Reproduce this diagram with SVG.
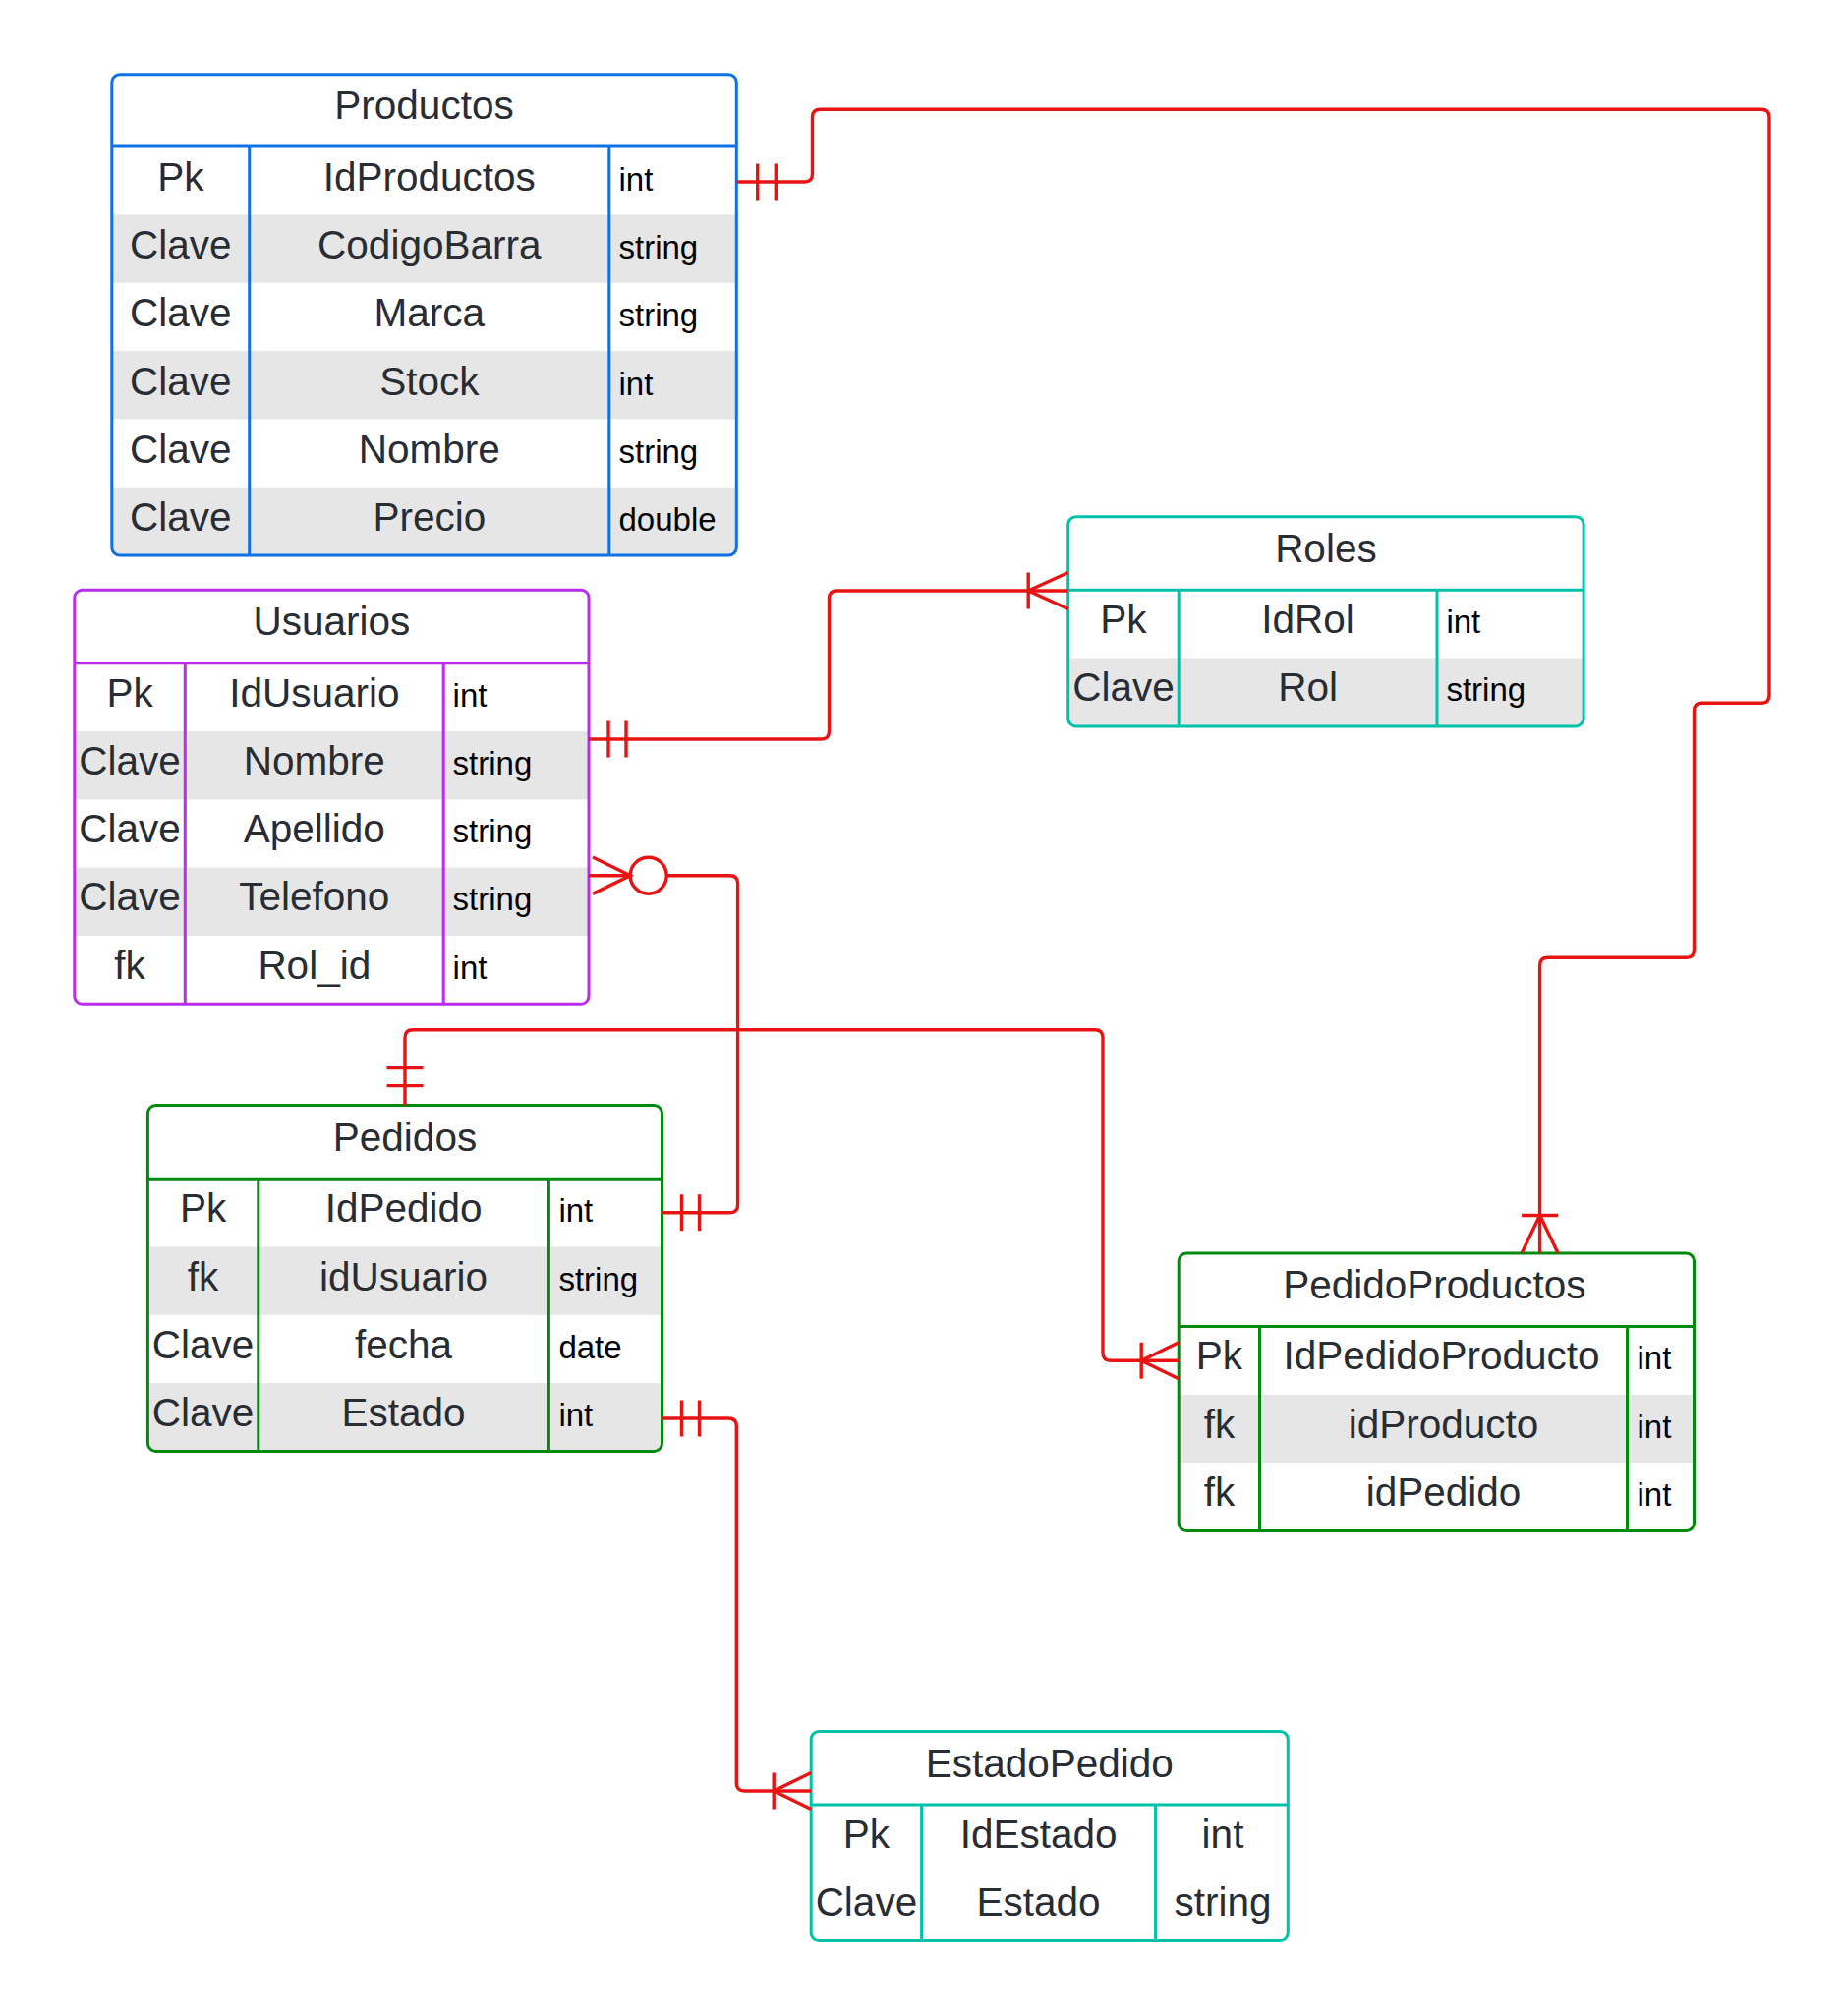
<svg xmlns="http://www.w3.org/2000/svg" width="1875" height="2051" viewBox="0 0 1875 2051">
<style>
  .bg { fill: #ffffff; }
  .alt { fill: #e6e6e6; }
  .frame { fill: none; stroke-width: 3; }
  .div { stroke-width: 3; fill: none; }
  .blue { stroke: #1071e5; }
  .purple { stroke: #b92df0; }
  .teal { stroke: #00c2a8; }
  .green { stroke: #008a0e; }
  .t { font-family: "Liberation Sans", Arial, sans-serif; font-size: 40.5px; fill: #282c33; text-anchor: middle; }
  .ty { font-family: "Liberation Sans", Arial, sans-serif; font-size: 33px; fill: #000000; text-anchor: start; }
  .conn { fill: none; stroke: #e81313; stroke-width: 3.4; }
</style>
<defs>
  <clipPath id="cp-productos"><rect x="113.8" y="75.8" width="635.5" height="489.2" rx="8"/></clipPath>
  <clipPath id="cp-usuarios"><rect x="75.8" y="600.2" width="523.2" height="421.1" rx="8"/></clipPath>
  <clipPath id="cp-roles"><rect x="1086.7" y="525.7" width="524.4" height="213.2" rx="8"/></clipPath>
  <clipPath id="cp-pedidos"><rect x="150.4" y="1124.6" width="523.1" height="351.8" rx="8"/></clipPath>
  <clipPath id="cp-pedprod"><rect x="1199.2" y="1275" width="524.3" height="282.5" rx="8"/></clipPath>
</defs>

<!-- Productos -->
<g id="productos">
  <rect class="bg" x="113.8" y="75.8" width="635.5" height="489.2" rx="8"/>
  <g clip-path="url(#cp-productos)">
    <rect class="alt" x="113.8" y="218.4" width="635.5" height="69.3"/>
    <rect class="alt" x="113.8" y="357.1" width="635.5" height="69.3"/>
    <rect class="alt" x="113.8" y="495.7" width="635.5" height="69.3"/>
  </g>
  <line class="div blue" x1="113.8" y1="149.1" x2="749.3" y2="149.1"/>
  <line class="div blue" x1="253.7" y1="149.1" x2="253.7" y2="565"/>
  <line class="div blue" x1="619.8" y1="149.1" x2="619.8" y2="565"/>
  <rect class="frame blue" x="113.8" y="75.8" width="635.5" height="489.2" rx="8"/>
  <text class="t" x="431.5" y="120.8">Productos</text>
  <text class="t" x="183.8" y="193.6">Pk</text>
  <text class="t" x="436.8" y="193.6">IdProductos</text>
  <text class="ty" x="629.5" y="193.6">int</text>
  <text class="t" x="183.8" y="262.9">Clave</text>
  <text class="t" x="436.8" y="262.9">CodigoBarra</text>
  <text class="ty" x="629.5" y="262.9">string</text>
  <text class="t" x="183.8" y="332.2">Clave</text>
  <text class="t" x="436.8" y="332.2">Marca</text>
  <text class="ty" x="629.5" y="332.2">string</text>
  <text class="t" x="183.8" y="401.5">Clave</text>
  <text class="t" x="436.8" y="401.5">Stock</text>
  <text class="ty" x="629.5" y="401.5">int</text>
  <text class="t" x="183.8" y="470.9">Clave</text>
  <text class="t" x="436.8" y="470.9">Nombre</text>
  <text class="ty" x="629.5" y="470.9">string</text>
  <text class="t" x="183.8" y="540.2">Clave</text>
  <text class="t" x="436.8" y="540.2">Precio</text>
  <text class="ty" x="629.5" y="540.2">double</text>
</g>

<!-- Usuarios -->
<g id="usuarios">
  <rect class="bg" x="75.8" y="600.2" width="523.2" height="421.1" rx="8"/>
  <g clip-path="url(#cp-usuarios)">
    <rect class="alt" x="75.8" y="744.1" width="523.2" height="69.3"/>
    <rect class="alt" x="75.8" y="882.7" width="523.2" height="69.3"/>
  </g>
  <line class="div purple" x1="75.8" y1="674.8" x2="599" y2="674.8"/>
  <line class="div purple" x1="188.3" y1="674.8" x2="188.3" y2="1021.3"/>
  <line class="div purple" x1="451.2" y1="674.8" x2="451.2" y2="1021.3"/>
  <rect class="frame purple" x="75.8" y="600.2" width="523.2" height="421.1" rx="8"/>
  <text class="t" x="337.4" y="646.2">Usuarios</text>
  <text class="t" x="132.1" y="718.5">Pk</text>
  <text class="t" x="319.8" y="718.5">IdUsuario</text>
  <text class="ty" x="460.6" y="718.5">int</text>
  <text class="t" x="132.1" y="787.8">Clave</text>
  <text class="t" x="319.8" y="787.8">Nombre</text>
  <text class="ty" x="460.6" y="787.8">string</text>
  <text class="t" x="132.1" y="857.1">Clave</text>
  <text class="t" x="319.8" y="857.1">Apellido</text>
  <text class="ty" x="460.6" y="857.1">string</text>
  <text class="t" x="132.1" y="926.4">Clave</text>
  <text class="t" x="319.8" y="926.4">Telefono</text>
  <text class="ty" x="460.6" y="926.4">string</text>
  <text class="t" x="132.1" y="995.7">fk</text>
  <text class="t" x="319.8" y="995.7">Rol_id</text>
  <text class="ty" x="460.6" y="995.7">int</text>
</g>

<!-- Roles -->
<g id="roles">
  <rect class="bg" x="1086.7" y="525.7" width="524.4" height="213.2" rx="8"/>
  <g clip-path="url(#cp-roles)">
    <rect class="alt" x="1086.7" y="669.5" width="524.4" height="69.4"/>
  </g>
  <line class="div teal" x1="1086.7" y1="600.2" x2="1611.1" y2="600.2"/>
  <line class="div teal" x1="1199.2" y1="600.2" x2="1199.2" y2="738.9"/>
  <line class="div teal" x1="1462" y1="600.2" x2="1462" y2="738.9"/>
  <rect class="frame teal" x="1086.7" y="525.7" width="524.4" height="213.2" rx="8"/>
  <text class="t" x="1348.9" y="571.7">Roles</text>
  <text class="t" x="1143" y="643.9">Pk</text>
  <text class="t" x="1330.6" y="643.9">IdRol</text>
  <text class="ty" x="1471.4" y="643.9">int</text>
  <text class="t" x="1143" y="713.2">Clave</text>
  <text class="t" x="1330.6" y="713.2">Rol</text>
  <text class="ty" x="1471.4" y="713.2">string</text>
</g>

<!-- Pedidos -->
<g id="pedidos">
  <rect class="bg" x="150.4" y="1124.6" width="523.1" height="351.8" rx="8"/>
  <g clip-path="url(#cp-pedidos)">
    <rect class="alt" x="150.4" y="1268.5" width="523.1" height="69.3"/>
    <rect class="alt" x="150.4" y="1407.1" width="523.1" height="69.3"/>
  </g>
  <line class="div green" x1="150.4" y1="1199.2" x2="673.5" y2="1199.2"/>
  <line class="div green" x1="262.8" y1="1199.2" x2="262.8" y2="1476.4"/>
  <line class="div green" x1="558.4" y1="1199.2" x2="558.4" y2="1476.4"/>
  <rect class="frame green" x="150.4" y="1124.6" width="523.1" height="351.8" rx="8"/>
  <text class="t" x="412" y="1170.8">Pedidos</text>
  <text class="t" x="206.6" y="1243.4">Pk</text>
  <text class="t" x="410.6" y="1243.4">IdPedido</text>
  <text class="ty" x="568.4" y="1243.4">int</text>
  <text class="t" x="206.6" y="1312.7">fk</text>
  <text class="t" x="410.6" y="1312.7">idUsuario</text>
  <text class="ty" x="568.4" y="1312.7">string</text>
  <text class="t" x="206.6" y="1382">Clave</text>
  <text class="t" x="410.6" y="1382">fecha</text>
  <text class="ty" x="568.4" y="1382">date</text>
  <text class="t" x="206.6" y="1451.3">Clave</text>
  <text class="t" x="410.6" y="1451.3">Estado</text>
  <text class="ty" x="568.4" y="1451.3">int</text>
</g>

<!-- PedidoProductos -->
<g id="pedidoproductos">
  <rect class="bg" x="1199.2" y="1275" width="524.3" height="282.5" rx="8"/>
  <g clip-path="url(#cp-pedprod)">
    <rect class="alt" x="1199.2" y="1418.9" width="524.3" height="69.3"/>
  </g>
  <line class="div green" x1="1199.2" y1="1349.6" x2="1723.5" y2="1349.6"/>
  <line class="div green" x1="1281.5" y1="1349.6" x2="1281.5" y2="1557.5"/>
  <line class="div green" x1="1655.5" y1="1349.6" x2="1655.5" y2="1557.5"/>
  <rect class="frame green" x="1199.2" y="1275" width="524.3" height="282.5" rx="8"/>
  <text class="t" x="1459.4" y="1321">PedidoProductos</text>
  <text class="t" x="1240.4" y="1393.3">Pk</text>
  <text class="t" x="1466.5" y="1393.3">IdPedidoProducto</text>
  <text class="ty" x="1665.5" y="1393.3">int</text>
  <text class="t" x="1240.4" y="1462.6">fk</text>
  <text class="t" x="1468.5" y="1462.6">idProducto</text>
  <text class="ty" x="1665.5" y="1462.6">int</text>
  <text class="t" x="1240.4" y="1531.9">fk</text>
  <text class="t" x="1468.5" y="1531.9">idPedido</text>
  <text class="ty" x="1665.5" y="1531.9">int</text>
</g>

<!-- EstadoPedido -->
<g id="estadopedido">
  <rect class="bg" x="825.2" y="1761.5" width="485.1" height="213.1" rx="8"/>
  <line class="div teal" x1="825.2" y1="1836" x2="1310.3" y2="1836"/>
  <line class="div teal" x1="937.6" y1="1836" x2="937.6" y2="1974.6"/>
  <line class="div teal" x1="1175.6" y1="1836" x2="1175.6" y2="1974.6"/>
  <rect class="frame teal" x="825.2" y="1761.5" width="485.1" height="213.1" rx="8"/>
  <text class="t" x="1067.8" y="1808">EstadoPedido</text>
  <text class="t" x="881.4" y="1879.7">Pk</text>
  <text class="t" x="1056.6" y="1879.7">IdEstado</text>
  <text class="t" x="1244" y="1879.7">int</text>
  <text class="t" x="881.4" y="1949">Clave</text>
  <text class="t" x="1056.6" y="1949">Estado</text>
  <text class="t" x="1244" y="1949">string</text>
</g>

<!-- Connectors -->
<g id="connectors">
  <!-- Productos -> PedidoProductos -->
  <path class="conn" d="M749.3 185 H818.5 Q826.5 185 826.5 177 V119.2 Q826.5 111.2 834.5 111.2 H1792 Q1800 111.2 1800 119.2 V707.3 Q1800 715.3 1792 715.3 H1731.5 Q1723.5 715.3 1723.5 723.3 V966.2 Q1723.5 974.2 1715.5 974.2 H1574.6 Q1566.6 974.2 1566.6 982.2 V1275"/>
  <path class="conn" d="M770.7 166.5 V203.5 M789.3 166.5 V203.5"/>
  <path class="conn" d="M1548.1 1275 L1566.6 1236.5 L1585.1 1275 M1548.1 1236.5 H1585.1"/>

  <!-- Usuarios -> Roles -->
  <path class="conn" d="M599 752 H835.5 Q843.5 752 843.5 744 V609 Q843.5 601 851.5 601 H1086.7"/>
  <path class="conn" d="M619 733.5 V770.5 M637 733.5 V770.5"/>
  <path class="conn" d="M1086.7 582.5 L1046.2 601 L1086.7 619.5 M1046.2 582.5 V619.5"/>

  <!-- Usuarios -> Pedidos -->
  <path class="conn" d="M599 890.7 H641.2"/>
  <path class="conn" d="M603 872 L641.2 890.7 L603 909.4"/>
  <circle class="conn" cx="659.7" cy="890.7" r="18.5"/>
  <path class="conn" d="M678.2 890.7 H742.6 Q750.6 890.7 750.6 898.7 V1225.7 Q750.6 1233.7 742.6 1233.7 H673.5"/>
  <path class="conn" d="M693.5 1215.2 V1252.2 M711.5 1215.2 V1252.2"/>

  <!-- Pedidos -> PedidoProductos -->
  <path class="conn" d="M412 1124.6 V1055.7 Q412 1047.7 420 1047.7 H1114 Q1122 1047.7 1122 1055.7 V1376.3 Q1122 1384.3 1130 1384.3 H1199.2"/>
  <path class="conn" d="M393.5 1104.6 H430.5 M393.5 1086.6 H430.5"/>
  <path class="conn" d="M1199.2 1365.8 L1161.2 1384.3 L1199.2 1402.8 M1161.2 1365.8 V1402.8"/>

  <!-- Pedidos -> EstadoPedido -->
  <path class="conn" d="M673.5 1443 H741.3 Q749.3 1443 749.3 1451 V1814 Q749.3 1822 757.3 1822 H825.2"/>
  <path class="conn" d="M693.5 1424.5 V1461.5 M711.5 1424.5 V1461.5"/>
  <path class="conn" d="M825.2 1803.5 L787.2 1822 L825.2 1840.5 M787.2 1803.5 V1840.5"/>
</g>
</svg>
